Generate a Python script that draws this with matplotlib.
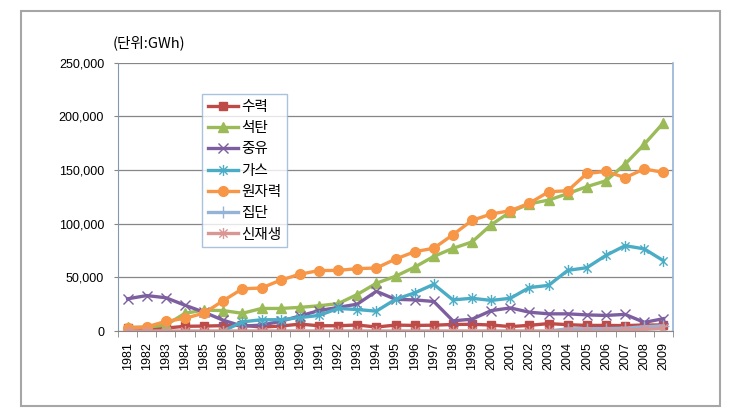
import numpy as np
import matplotlib
matplotlib.use("Agg")
import matplotlib.pyplot as plt
from matplotlib.path import Path
from matplotlib.patches import Rectangle
from matplotlib.ticker import FuncFormatter, FixedLocator

plt.rcParams["font.family"] = ["Liberation Sans", "Noto Sans CJK KR", "DejaVu Sans"]
KR = ["Noto Sans CJK KR", "DejaVu Sans"]

years = list(range(1981, 2010))
NA = np.nan

hydro = [2900, 2300, 2700, 4400, 4600, 5000, 5400, 3600, 4600, 6400,
         4900, 4900, 5600, 3700, 5500, 5200, 5400, 6100, 6200, 5600,
         4100, 5300, 6900, 5900, 5200, 5200, 5000, 5600, 5600]
coal = [3500, 3500, 5500, 16500, 19500, 19000, 16500, 21000, 21000, 22000,
        23500, 25500, 34000, 44500, 51000, 59500, 69500, 77000, 83000, 99000,
        111000, 118500, 122000, 128000, 134500, 140000, 155500, 174000, 194000]
oil = [30000, 33000, 31000, 24000, 17500, 10000, 4500, 5500, 9000, 14000,
       19000, 22000, 25000, 37000, 29500, 29000, 27500, 9500, 11000, 19000,
       21500, 17500, 16000, 16000, 15000, 14500, 15500, 8000, 11500]
gas = [NA, NA, NA, NA, NA, 0, 8500, 10500, 10500, 12500,
       14500, 21000, 20000, 18500, 29500, 35500, 43500, 29000, 30500, 28500,
       30500, 40500, 42500, 56500, 59000, 70500, 79500, 76500, 65500]
nuclear = [2900, 3800, 9000, 11800, 16700, 28300, 39300, 40100, 47400, 52900,
           56300, 56500, 58100, 58700, 67000, 73900, 77100, 89700, 103100, 109000,
           112100, 119100, 129700, 130700, 146800, 148700, 142900, 151000, 147800]
district = [NA] * 22 + [0, 2000, 2200, 2200, 2600, 4000, 4800]
renew = [0] * 26 + [800, 1500, 2500]

labels = ["수력", "석탄", "중유", "가스", "원자력", "집단", "신재생"]
series = [hydro, coal, oil, gas, nuclear, district, renew]

# excel style asterisk: x with a vertical bar
AST = Path([(-1, -1), (1, 1), (-1, 1), (1, -1), (0, -1.35), (0, 1.35)],
           [Path.MOVETO, Path.LINETO, Path.MOVETO, Path.LINETO, Path.MOVETO, Path.LINETO])

styles = [
    dict(color="#BE4B48", marker="s", ms=6),
    dict(color="#9BBB59", marker="^", ms=7),
    dict(color="#7D5FA0", marker="x", ms=7, mew=1.0),
    dict(color="#4BACC6", marker=AST, ms=8, mew=1.0),
    dict(color="#F79646", marker="o", ms=7),
    dict(color="#95B3D7", marker="+", ms=8, mew=1.0),
    dict(color="#D99694", marker=AST, ms=8, mew=1.0),
]

fig = plt.figure(figsize=(7.42, 4.20), dpi=100)
ax = fig.add_axes([118 / 742, 1 - 331 / 420, (673 - 118) / 742, (331 - 62.7) / 420])

x = np.arange(len(years))
for vals, lab, st in zip(series, labels, styles):
    ax.plot(x, vals, lw=2.4, label=lab, **st)

ax.set_xlim(-0.5, len(years) - 0.5)
ax.set_ylim(0, 250000)
ax.yaxis.set_major_locator(FixedLocator(range(0, 250001, 50000)))
ax.yaxis.set_major_formatter(FuncFormatter(lambda v, p: f"{int(v):,}"))
ax.set_xticks(x)
ax.set_xticklabels([str(y) for y in years], rotation=90, fontsize=9)
ax.set_xticks(np.arange(-0.5, len(years)), minor=True)
ax.tick_params(axis="x", which="major", length=0, pad=8)
ax.tick_params(axis="x", which="minor", length=4, color="#868686")
ax.tick_params(axis="y", length=3, pad=7, labelsize=9, color="#868686")
ax.grid(axis="y", color="#868686", lw=0.9)
ax.set_axisbelow(True)

ax.spines["top"].set_visible(False)
ax.spines["left"].set_color("#8497B0")
ax.spines["bottom"].set_color("#868686")
ax.spines["right"].set_color("#95B3D7")
ax.spines["right"].set_linewidth(1.2)

fig.text(113 / 742, 1 - 43 / 420, "(단위:GWh)", fontsize=10.5, va="center", ha="left", family=KR)

leg = ax.legend(loc="upper left", bbox_to_anchor=(201.7 / 742, 1 - 94 / 420),
                bbox_transform=fig.transFigure, prop={"family": KR, "size": 10.5},
                frameon=True, fancybox=False, handlelength=2.1, handletextpad=0.2,
                labelspacing=0.5, borderpad=0.4, borderaxespad=0)
leg.get_frame().set_edgecolor("#95B3D7")
leg.get_frame().set_linewidth(1.0)

fig.patches.append(Rectangle((20.7 / 742, 1 - 406 / 420), (720 - 20.7) / 742, (406 - 10.7) / 420,
                             transform=fig.transFigure, fill=False, edgecolor="#A6A6A6", lw=1.5))

fig.savefig("out.png", dpi=100)
